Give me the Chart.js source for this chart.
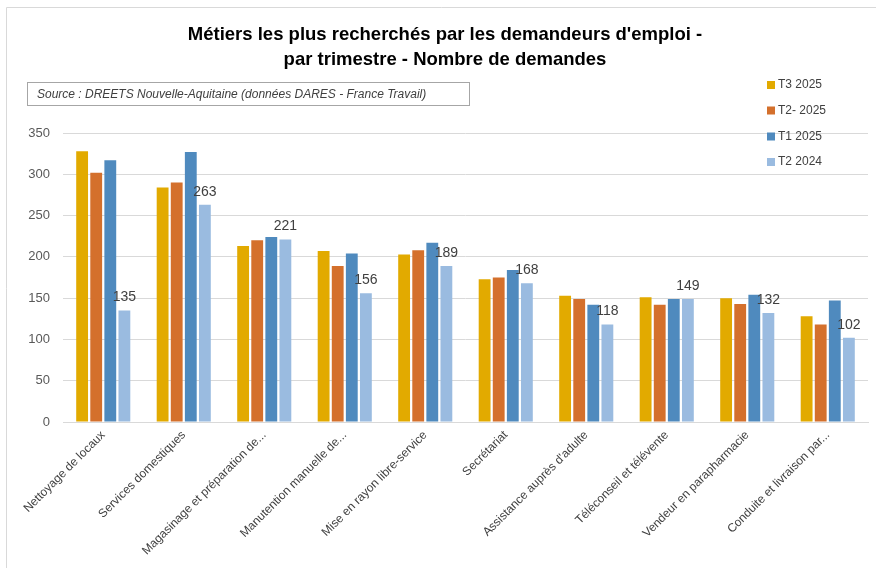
<!DOCTYPE html>
<html>
<head>
<meta charset="utf-8">
<script src="https://cdn.jsdelivr.net/npm/chart.js@4/dist/chart.umd.min.js"></script>
<style>
  html, body { margin: 0; padding: 0; background: #fff; }
  #wrap { width: 876px; height: 568px; position: relative; }
</style>
</head>
<body>
<div id="wrap"><canvas id="c" width="876" height="568"></canvas></div>
<script>
const categories = [
  "Nettoyage de locaux",
  "Services domestiques",
  "Magasinage et préparation de...",
  "Manutention manuelle de...",
  "Mise en rayon libre-service",
  "Secrétariat",
  "Assistance auprès d'adulte",
  "Téléconseil et télévente",
  "Vendeur en parapharmacie",
  "Conduite et livraison par..."
];
const seriesNames = ["T3 2025", "T2- 2025", "T1 2025", "T2 2024"];
const t3_2025 = [328, 284, 213, 207, 203, 173, 153, 151, 150, 128];
const t2_2025 = [302, 290, 220, 189, 208, 175, 149, 142, 143, 118];
const t1_2025 = [317, 327, 224, 204, 217, 184, 142, 149, 154, 147];
const t2_2024 = [135, 263, 221, 156, 189, 168, 118, 149, 132, 102];
const yTicks = [0, 50, 100, 150, 200, 250, 300, 350];
const titleLines = ["Métiers les plus recherchés par les demandeurs d'emploi -", "par trimestre - Nombre de demandes"];
const sourceText = "Source : DREETS Nouvelle-Aquitaine (données DARES - France Travail)";
const colors = ["#E2AA00", "#D4702C", "#4F8ABE", "#9ABBE0"];

const FONT = "'Liberation Sans', Arial, sans-serif";

const decorPlugin = {
  id: 'decor',
  afterDraw(chart) {
    const ctx = chart.ctx;
    ctx.save();
    // outer frame
    ctx.strokeStyle = '#D9D9D9';
    ctx.lineWidth = 1;
    ctx.beginPath();
    ctx.moveTo(6.5, 600); ctx.lineTo(6.5, 7.5); ctx.lineTo(900, 7.5);
    ctx.stroke();
    // title
    ctx.fillStyle = '#000';
    ctx.font = "bold 18.5px " + FONT;
    ctx.textAlign = 'center';
    ctx.textBaseline = 'middle';
    ctx.fillText(titleLines[0], 445, 35);
    ctx.fillText(titleLines[1], 445, 60);
    // source box
    ctx.strokeStyle = '#A6A6A6';
    ctx.strokeRect(27.5, 82.5, 442, 23);
    ctx.fillStyle = '#404040';
    ctx.font = "italic 12px " + FONT;
    ctx.textAlign = 'left';
    ctx.fillText(sourceText, 37, 95);
    // legend
    const ys = [85, 110.5, 136.5, 162];
    chart.data.datasets.forEach((ds, i) => {
      ctx.fillStyle = ds.backgroundColor;
      ctx.fillRect(767, ys[i] - 4, 8, 8);
      ctx.fillStyle = '#404040';
      ctx.font = "12px " + FONT;
      ctx.fillText(ds.label, 778, ys[i]);
    });
    // data labels for last series
    const meta = chart.getDatasetMeta(3);
    ctx.fillStyle = '#404040';
    ctx.font = "14px " + FONT;
    ctx.textAlign = 'center';
    ctx.textBaseline = 'bottom';
    meta.data.forEach((el, j) => {
      ctx.fillText(String(chart.data.datasets[3].data[j]), el.x, el.y - 6);
    });
    ctx.restore();
  }
};

new Chart(document.getElementById('c'), {
  type: 'bar',
  data: {
    labels: categories,
    datasets: [
      { label: seriesNames[0], data: t3_2025, backgroundColor: colors[0] },
      { label: seriesNames[1], data: t2_2025, backgroundColor: colors[1] },
      { label: seriesNames[2], data: t1_2025, backgroundColor: colors[2] },
      { label: seriesNames[3], data: t2_2024, backgroundColor: colors[3] }
    ]
  },
  options: {
    responsive: false,
    animation: false,
    layout: { padding: { top: 133, right: 8, left: 0, bottom: 0 } },
    datasets: { bar: { categoryPercentage: 0.7, barPercentage: 0.84 } },
    plugins: { legend: { display: false }, tooltip: { enabled: false }, title: { display: false } },
    scales: {
      x: {
        grid: { display: false, drawTicks: false },
        border: { display: true, color: '#D9D9D9' },
        ticks: { color: '#404040', font: { family: FONT, size: 12 }, maxRotation: 45, minRotation: 45, padding: 6, autoSkip: false },
        afterFit(s) { s.height = 146; }
      },
      y: {
        min: 0, max: 350,
        afterBuildTicks(s) { s.ticks = yTicks.map(v => ({ value: v })); },
        grid: { color: '#D9D9D9', drawTicks: false },
        border: { display: false },
        ticks: { color: '#595959', font: { family: FONT, size: 13 }, padding: 13 },
        afterFit(s) { s.width = 63; }
      }
    }
  },
  plugins: [decorPlugin]
});
</script>
</body>
</html>
